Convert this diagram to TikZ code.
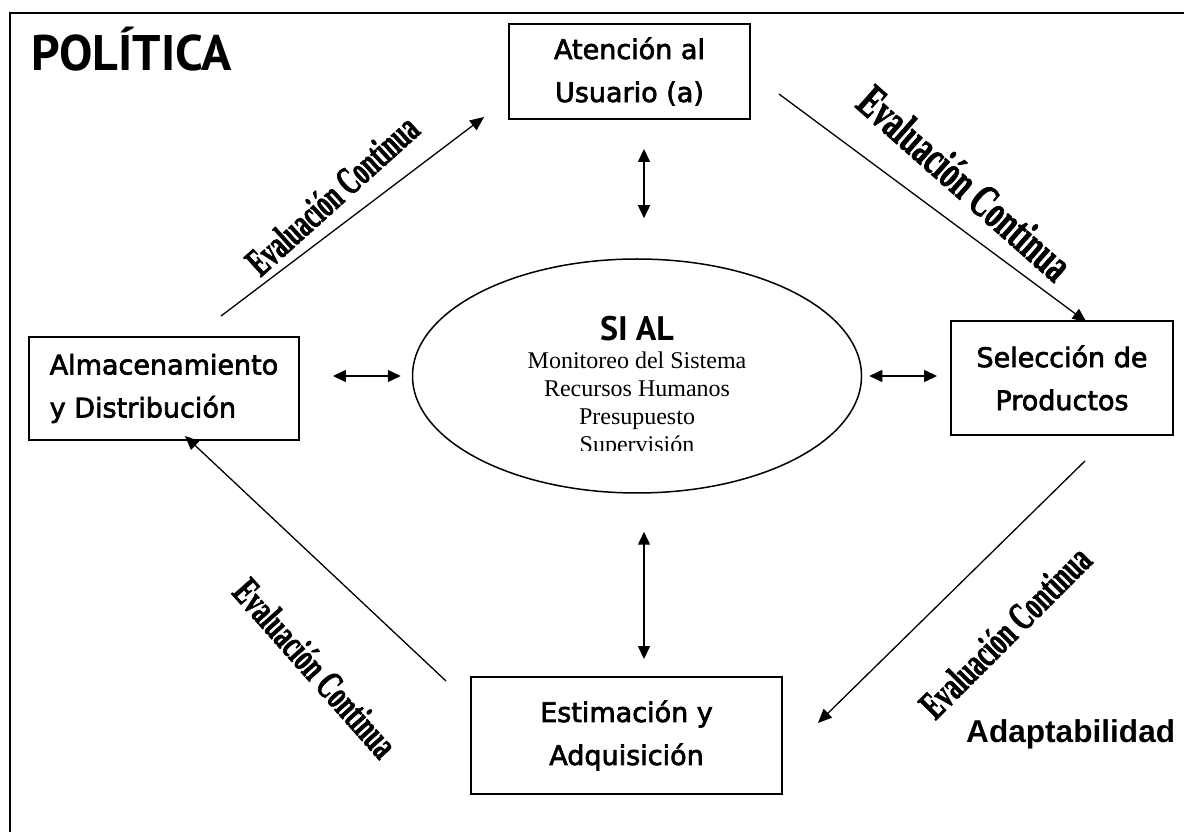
\documentclass[tikz,border=0pt]{standalone}
\usepackage{fontspec}
\setmainfont{Liberation Serif}
\newfontfamily\boxfont{DejaVu Sans}[FakeBold=2.5]
\newfontfamily\headfont{PT Sans}
\newfontfamily\arialfont{Liberation Sans}
\newfontfamily\evfont{Liberation Serif}[BoldFeatures={FakeBold=2}]
\usetikzlibrary{arrows.meta,shapes.geometric}

\begin{document}
\begin{tikzpicture}[x=1pt, y=1pt,
		b/.style = {rectangle, draw, line width=1.9pt, inner sep=0pt, align=center, font=\boxfont\fontsize{27}{43}\selectfont},
		e/.style = {ellipse, draw, line width=1.5pt, minimum width=449pt, minimum height=234pt, inner sep=0pt},
		ev/.style = {font=\evfont\bfseries\fontsize{40}{40}\selectfont, inner sep=0pt},
		r/.style = {-{Triangle[length=14pt,width=12pt]}, line width=1.3pt},
		d/.style = {{Triangle[length=13pt,width=12pt]}-{Triangle[length=13pt,width=12pt]}, line width=1.4pt}
		]
		\useasboundingbox (0,0) rectangle (1184,831);
		\draw[line width=1.5pt] (10,-20) rectangle (1200,818);
		
		%Nodes
		\node[b, minimum width=241pt, minimum height=95pt]	(aten)	at	(629.5, 759.5)	{Atención al\\Usuario (a)};
		\node[b, minimum width=270pt, minimum height=103pt, align=left]	(alm)	at	(164, 442.5)	{Almacenamiento\\y Distribución};
		\node[b, minimum width=222pt, minimum height=114pt]	(sel)	at	(1062, 453)	{Selección de\\Productos};
		\node[b, minimum width=311pt, minimum height=117pt]	(est)	at	(626.5, 95.5)	{Estimación y\\Adquisición};
		\node[e]	(sial)	at	(637, 455)	{};
		\begin{scope}
			\clip (420,380) rectangle (860,560);
			\node[align=center, inner sep=0pt, anchor=north, font=\fontsize{24}{28}\selectfont]	(sialtxt)	at	(637, 515)
				{{\headfont\bfseries\fontsize{34}{34}\selectfont SI\hspace{8pt}AL}\\[0pt]Monitoreo del Sistema\\Recursos Humanos\\Presupuesto\\Supervisión};
		\end{scope}
		\node[anchor=base west, inner sep=0pt, font=\headfont\bfseries\fontsize{50}{50}\selectfont]	(pol)	at	(31, 760)	{POLÍTICA};
		\node[anchor=base west, inner sep=0pt, font=\arialfont\bfseries\fontsize{31.6}{32}\selectfont]	(adap)	at	(966, 89)	{Adaptabilidad};
		\node[ev, rotate=42, xscale=0.6]	(ev1)	at	(332, 636)	{Evaluación Continua};
		\node[ev, font=\evfont\bfseries\fontsize{47}{47}\selectfont, rotate=-41.5, xscale=0.63]	(ev2)	at	(965, 648)	{Evaluación Continua};
		\node[ev, rotate=45, xscale=0.62]	(ev3)	at	(1005, 199)	{Evaluación Continua};
		\node[ev, rotate=-48.4, xscale=0.62]	(ev4)	at	(315.5, 163)	{Evaluación Continua};
		
		%Lines
		\draw[r]	([shift={(57,20)}]alm.north)	--	([shift={(-24,-45.5)}]aten.west);
		\draw[r]	([shift={(28,-22.5)}]aten.east)	--	([shift={(24.5,-2)}]sel.north);
		\draw[r]	([shift={(23,-25)}]sel.south)	--	([shift={(35,12.5)}]est.east);
		\draw[r]	([shift={(-24,-5)}]est.north west)	--	([shift={(21,5)}]alm.south);
		\draw[d, shorten <=33pt, shorten >=11pt]	(alm.east |- sial.west)	--	(sial.west);
		\draw[d, shorten <=7pt, shorten >=13pt]	(sial.east)	--	(sial.east -| sel.west);
		\draw[d, shorten <=29pt, shorten >=40pt]	([xshift=7pt]sial.north |- aten.south)	--	([xshift=7pt]sial.north);
		\draw[d, shorten <=38pt, shorten >=17pt]	([xshift=7pt]sial.south)	--	([xshift=7pt]sial.south |- est.north);
	\end{tikzpicture}
\end{document}
